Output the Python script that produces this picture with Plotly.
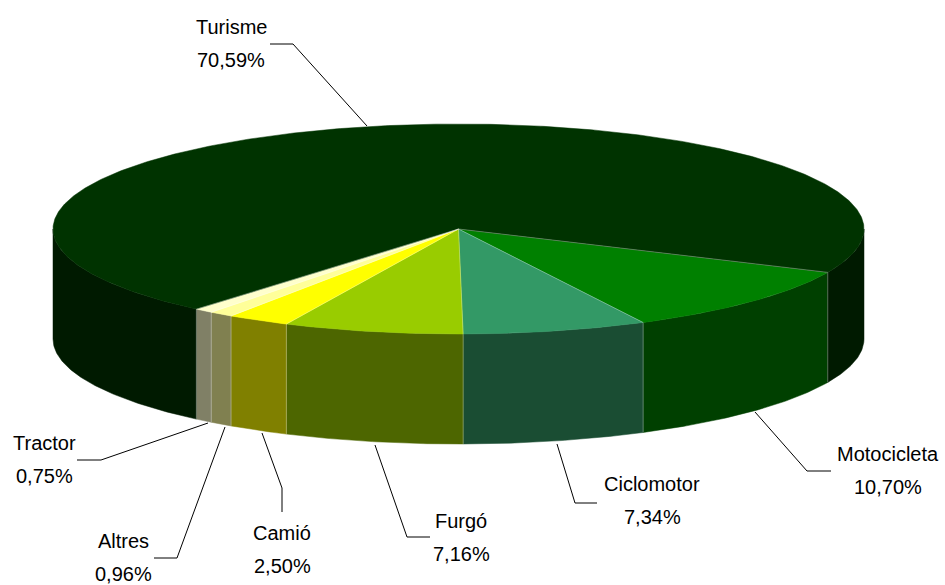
import numpy as np
import plotly.graph_objects as go

categories = ["Motocicleta", "Ciclomotor", "Furgó", "Camió", "Altres", "Tractor", "Turisme"]
shares = [10.70, 7.34, 7.16, 2.50, 0.96, 0.75, 70.59]
share_labels = ["10,70%", "7,34%", "7,16%", "2,50%", "0,96%", "0,75%", "70,59%"]
top_colors = ["#008000", "#339966", "#99CC00", "#FFFF00", "#FFFF99", "#FFFFCC", "#003300"]
side_colors = ["#004000", "#1A4D33", "#4D6600", "#808000", "#808050", "#808066", "#001A00"]

# pie geometry in page pixels
CX, CY, RX, RY, DEPTH = 458.5, 229.0, 405.5, 105.0, 110.0
START = 24.4
label_pos = [(888, 454), (652, 484), (461, 521), (282, 533), (123, 541), (44, 443), (231, 27)]
LINE_GAP = 33
leaders = [
    [(755, 412), (807, 471), (831, 471)],
    [(557, 444), (575, 503), (597, 503)],
    [(375, 445), (407, 537), (430, 537)],
    [(262, 433), (282, 488), (282, 512)],
    [(225, 427), (177, 558), (154, 558)],
    [(208, 423), (101, 460), (77, 460)],
    [(367, 126), (293, 44), (270, 44)],
]


def rim(a0, a1, dy=0.0):
    t = np.radians(np.linspace(a0, a1, max(int(abs(a1 - a0) * 2), 2)))
    return CX + RX * np.cos(t), CY + RY * np.sin(t) + dy


edges = START + np.cumsum([0.0] + list(shares)) * 3.6
fig = go.Figure()


def poly(xs, ys, color):
    fig.add_trace(go.Scatter(x=xs, y=ys, mode="lines", fill="toself", fillcolor=color,
                             line=dict(color=color, width=0.5), hoverinfo="skip", showlegend=False))


# walls: only the front half of the cylinder (0..180 degrees) is visible
for i in range(len(shares)):
    for k in (0, 360):
        a0, a1 = max(edges[i] - k, 0), min(edges[i + 1] - k, 180)
        if a1 > a0:
            xt, yt = rim(a0, a1)
            xb, yb = rim(a0, a1, DEPTH)
            poly(np.r_[xt, xb[::-1], xt[0]], np.r_[yt, yb[::-1], yt[0]], side_colors[i])

# top faces
for i in range(len(shares)):
    x, y = rim(edges[i], edges[i + 1])
    poly(np.r_[CX, x, CX], np.r_[CY, y, CY], top_colors[i])

# thin light seams between slices
sx, sy = [], []
for a in edges[:-1]:
    x, y = rim(a, a + 0.001)
    sx += [CX, x[0], x[0], x[0], None]
    sy += [CY, y[0], y[0], y[0] + DEPTH, None]
fig.add_trace(go.Scatter(x=sx, y=sy, mode="lines", line=dict(color="rgba(255,255,255,0.3)", width=1),
                         hoverinfo="skip", showlegend=False))

annotations = []
for name, pct, (lx, ly) in zip(categories, share_labels, label_pos):
    for txt, yy in ((name, ly), (pct, ly + LINE_GAP)):
        annotations.append(dict(x=lx, y=yy, text=txt, showarrow=False, xanchor="center", yanchor="middle",
                                font=dict(family="Liberation Sans", size=20, color="#000000")))

shapes = []
for pts in leaders:
    path = "M " + " L ".join(f"{px},{py}" for px, py in pts)
    shapes.append(dict(type="path", path=path, line=dict(color="#000000", width=1), layer="above"))

fig.update_layout(
    width=945, height=585, margin=dict(l=0, r=0, t=0, b=0),
    paper_bgcolor="#FFFFFF", plot_bgcolor="#FFFFFF", showlegend=False,
    xaxis=dict(range=[0, 945], visible=False, fixedrange=True),
    yaxis=dict(range=[585, 0], visible=False, fixedrange=True),
    annotations=annotations, shapes=shapes,
)
fig.write_html("out.html", config={"displayModeBar": False},
               post_script="document.body.style.margin='0';document.body.style.overflow='hidden';")
